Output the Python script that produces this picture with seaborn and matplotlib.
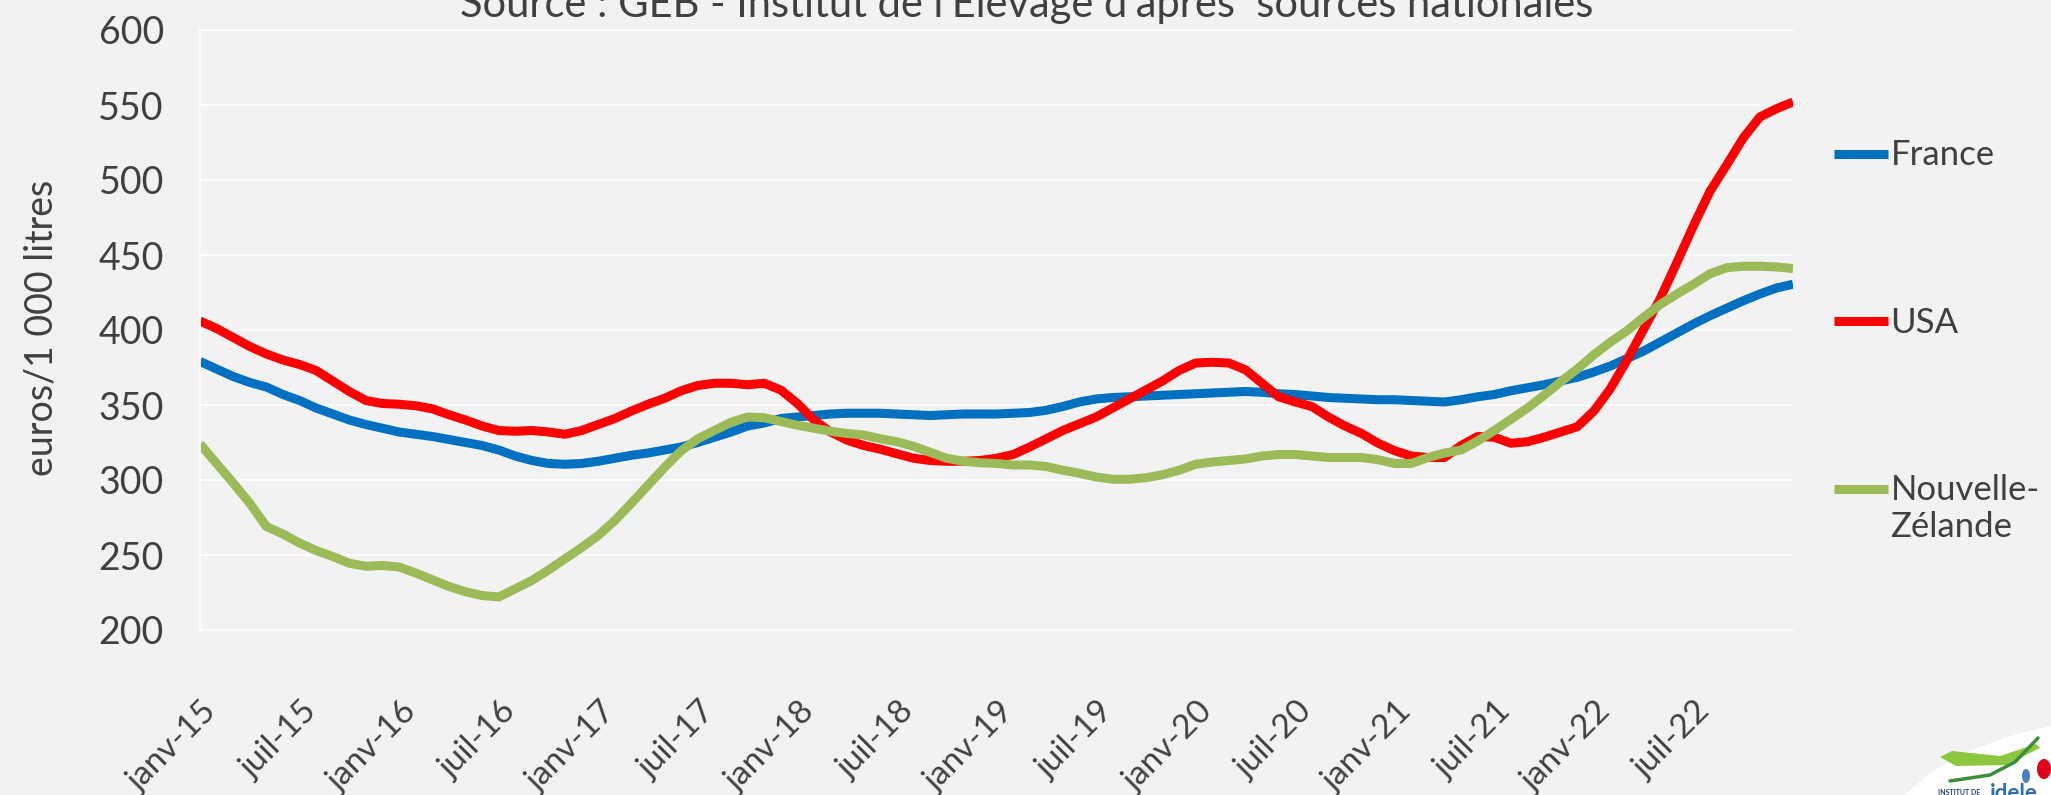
import numpy as np
import pandas as pd
import matplotlib
matplotlib.use("Agg")
import matplotlib.pyplot as plt
import matplotlib.transforms as mtransforms
from matplotlib.patches import Ellipse, Polygon
import seaborn as sns

# Monthly milk price, euros per 1 000 litres, janv-15 .. janv-23
mois = list(range(97))

france = [379, 374, 369, 365, 362, 357, 353, 348, 344, 340,
          337, 334.5, 332, 330.5, 329, 327, 325, 323, 320, 316,
          313, 311, 310.5, 311, 312.5, 314.5, 316.5, 318, 320, 322,
          325, 328.5, 332, 336, 338, 341, 342, 343, 344, 344.5,
          344.5, 344.5, 344, 343.5, 343, 343.5, 344, 344, 344, 344.5,
          345, 346.5, 349, 352, 354, 355, 355.5, 356, 356.5, 357,
          357.5, 358, 358.5, 359, 358.5, 357.5, 357, 356, 355, 354.5,
          354, 353.5, 353.5, 353, 352.5, 352, 353.5, 355.5, 357, 359.5,
          361.5, 363.5, 366, 368.5, 372, 376, 381, 386, 392, 398,
          404, 409.5, 414.5, 419.5, 424, 428, 430.5]

usa = [406, 401, 395, 389, 384, 380, 377, 373, 366, 359,
       353, 351, 350.5, 349.5, 347.5, 343.5, 340, 336, 333, 332.5,
       333, 332, 330.5, 333, 337, 341, 346, 350.5, 354.5, 359.5,
       363, 364.5, 364.5, 363.5, 364.5, 360, 351, 340, 332, 326.5,
       323, 320.5, 317.5, 314.5, 313, 312.5, 312.5, 313, 314.5, 317,
       322, 327.5, 333, 337.5, 342, 348, 354, 360, 366, 373,
       378, 378.5, 378, 373.5, 364.5, 355.5, 352, 349, 342, 336,
       331, 324.5, 319.5, 316, 315, 315, 323, 329, 328.5, 324.5,
       325.5, 328.5, 332, 335.5, 346, 361, 380, 400.5, 421, 445,
       469.5, 492.5, 510, 528, 542, 547.5, 552]

nouvelle_zelande = [324, 311, 298, 284.5, 269, 264, 258, 253, 249, 244.5,
                    242.5, 243, 242, 238, 233.5, 229, 225.5, 223, 222, 227.5,
                    233, 240, 247.5, 255, 263, 273, 284.5, 296.5, 308.5, 319.5,
                    327.5, 333, 338.5, 342, 341.5, 339, 336.5, 334.5, 332.5, 331,
                    330, 327.5, 325.5, 322.5, 318.5, 314.5, 312.5, 311.5, 311, 310,
                    310, 309, 306.5, 304.5, 302, 300.5, 300.5, 301.5, 303.5, 306.5,
                    310.5, 312, 313, 314, 316, 317, 317, 316, 315, 315,
                    315, 313.5, 311, 311, 315, 318, 320, 326, 333, 340.5,
                    348, 356.5, 365.5, 374, 383.5, 392, 399.5, 408.5, 417, 424,
                    430.5, 437.5, 441.5, 442.5, 442.5, 442, 441]

pays = ["France", "USA", "Nouvelle-\nZélande"]
couleurs = ["#0070C0", "#FF0000", "#9BBB59"]

x_ticks = list(range(0, 97, 6))
x_tick_labels = ["janv-15", "juil-15", "janv-16", "juil-16", "janv-17", "juil-17",
                 "janv-18", "juil-18", "janv-19", "juil-19", "janv-20", "juil-20",
                 "janv-21", "juil-21", "janv-22", "juil-22", ""]
y_ticks = [200, 250, 300, 350, 400, 450, 500, 550, 600]

titre = "Source : GEB - Institut de l'Elevage d'après  sources nationales"
y_titre = "euros/1 000 litres"

df = pd.DataFrame({
    "mois": mois * 3,
    "prix": france + usa + nouvelle_zelande,
    "pays": [p for p in pays for _ in mois],
})

BG = "#F2F2F2"
TXT = "#404040"

sns.set_style("white", {"axes.facecolor": BG, "figure.facecolor": BG})
plt.rcParams["font.family"] = ["Lato", "DejaVu Sans"]

W, H = 2051, 795
fig = plt.figure(figsize=(W / 100, H / 100), dpi=100)
ax = fig.add_axes([200 / W, 1 - 630 / H, 1593 / W, 600 / H])
ax.set_facecolor(BG)

sns.lineplot(data=df, x="mois", y="prix", hue="pays", hue_order=pays,
             palette=dict(zip(pays, couleurs)), linewidth=6.5, ax=ax,
             solid_joinstyle="round", solid_capstyle="butt")

ax.set_xlim(0, 96)
ax.set_ylim(200, 600)
ax.set_yticks(y_ticks)
ax.set_yticklabels([str(v) for v in y_ticks])
ax.set_xticks(x_ticks)
ax.set_xticklabels(x_tick_labels, rotation=45, ha="right", va="center",
                   rotation_mode="anchor")

ax.grid(axis="y", color="white", linewidth=1.2)
ax.grid(axis="x", visible=False)
for side in ["left", "bottom", "top"]:
    ax.spines[side].set_color("white")
    ax.spines[side].set_linewidth(1.2)
ax.spines["right"].set_visible(False)

ax.tick_params(axis="x", direction="inout", length=19, width=1, color="white",
               pad=46, labelsize=24, labelcolor=TXT)
ax.tick_params(axis="y", length=0, pad=26, labelsize=27, labelcolor=TXT)

shift = mtransforms.ScaledTranslation(12 / 100, 0, fig.dpi_scale_trans)
for lab in ax.get_xticklabels():
    lab.set_transform(lab.get_transform() + shift)

ax.set_xlabel("")
ax.set_ylabel(y_titre, fontsize=27, color=TXT, va="center")
ax.yaxis.set_label_coords((42 - 200) / 1593, (630 - 328) / 600)

handles, labels = ax.get_legend_handles_labels()
leg = ax.legend(handles, labels, loc="upper left",
                bbox_to_anchor=(1834 / W, 1 - 139 / H),
                bbox_transform=fig.transFigure, frameon=False,
                fontsize=25, handlelength=1.55, handletextpad=0.08,
                handleheight=1.2, labelspacing=3.8, borderpad=0,
                borderaxespad=0)
for t in leg.get_texts():
    t.set_color(TXT)
for col in leg._legend_handle_box.get_children():
    for row in col.get_children():
        row.align = "top"

fig.text(1027 / W, 1 - 17 / H, titre, ha="center", va="baseline",
         fontsize=30, color=TXT)

# idele logo in the lower right corner
lg = fig.add_axes([0, 0, 1, 1], zorder=5)
lg.set_xlim(0, W)
lg.set_ylim(H, 0)
lg.axis("off")
lg.add_patch(Ellipse((2075, 808), 380, 170, angle=-10, facecolor="white",
                     edgecolor="none"))
lg.add_patch(Polygon([(1940, 757), (1952, 751), (2000, 756), (2036, 744),
                      (2040, 748), (2006, 765), (1956, 766)],
                     closed=True, facecolor="#8DC63F", edgecolor="none"))
lg.plot([1950, 1990, 2015, 2038], [781, 775, 762, 738], color="#3A8F3A",
        lw=2.5, solid_capstyle="round")
lg.add_patch(Ellipse((2026, 776), 8, 14, facecolor="#4A7EC2", edgecolor="none"))
lg.add_patch(Ellipse((2044, 769), 14, 20, facecolor="#E3001B", edgecolor="none"))
lg.text(1938, 795, "INSTITUT DE", fontsize=5, fontweight="bold",
        color="#1F3F7A", va="baseline")
lg.text(1990, 800, "idele", fontsize=16, fontweight="bold",
        color="#2F6DB5", va="baseline")

fig.savefig("out.png", dpi=100, facecolor=BG)
